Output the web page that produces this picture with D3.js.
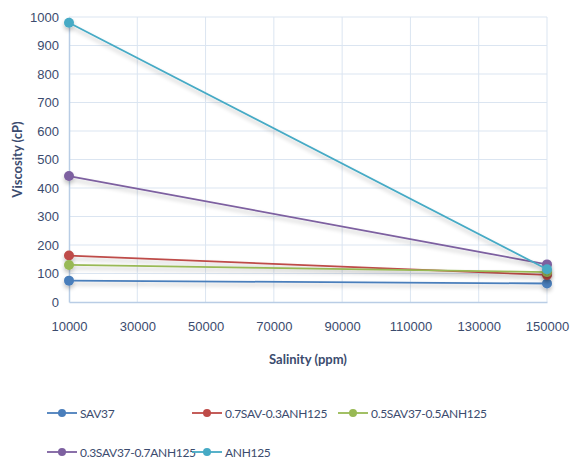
<!DOCTYPE html>
<html lang='en'>
<head>
<meta charset='UTF-8'>
<title>Viscosity vs salinity</title>
<script src='https://cdnjs.cloudflare.com/ajax/libs/d3/7.8.5/d3.min.js'></script>
<style>
  body { margin: 0; background: #fff; }
  svg { display: block; font-family: Lato, 'Open Sans', sans-serif; }
</style>
</head>
<body>
<div id='chart'></div>
<script>
  // data
  const salinity = [10000, 150000];
  const seriesNames = ['SAV37', '0.7SAV-0.3ANH125', '0.5SAV37-0.5ANH125', '0.3SAV37-0.7ANH125', 'ANH125'];
  const sav37 = [75, 65];
  const sav07 = [163, 95];
  const sav05 = [130, 105];
  const sav03 = [442, 132];
  const anh125 = [980, 115];
  const colors = ['#4a7ebb', '#be4b48', '#98b954', '#7d60a0', '#46aac5'];
  const xTicks = [10000, 30000, 50000, 70000, 90000, 110000, 130000, 150000];
  const yTicks = [0, 100, 200, 300, 400, 500, 600, 700, 800, 900, 1000];

  const allValues = [sav37, sav07, sav05, sav03, anh125];
  const series = seriesNames.map((name, i) => ({
    name, color: colors[i],
    points: salinity.map((s, j) => ({ s, v: allValues[i][j] }))
  }));

  const W = 573, H = 461;
  const margin = { top: 17, right: 26, bottom: 159, left: 69 };
  const width = W - margin.left - margin.right;
  const height = H - margin.top - margin.bottom;

  const svg = d3.select('#chart').append('svg').attr('width', W).attr('height', H);

  const defs = svg.append('defs');
  const shadow = defs.append('filter').attr('id', 'shadow')
    .attr('x', '-10%').attr('y', '-50%').attr('width', '120%').attr('height', '200%');
  shadow.append('feGaussianBlur').attr('in', 'SourceAlpha').attr('stdDeviation', 2);
  shadow.append('feOffset').attr('dx', 0).attr('dy', 3).attr('result', 'blur');
  shadow.append('feComponentTransfer').append('feFuncA').attr('type', 'linear').attr('slope', 0.25);
  const merge = shadow.append('feMerge');
  merge.append('feMergeNode');
  merge.append('feMergeNode').attr('in', 'SourceGraphic');

  const g = svg.append('g').attr('transform', `translate(${margin.left},${margin.top})`);

  const x = d3.scaleLinear().domain([10000, 150000]).range([0, width]);
  const y = d3.scaleLinear().domain([0, 1000]).range([height, 0]);

  // grid
  g.append('g').selectAll('line').data(yTicks.slice(1)).join('line')
    .attr('x1', 0).attr('x2', width)
    .attr('y1', d => y(d)).attr('y2', d => y(d))
    .attr('stroke', '#dbe5f1').attr('stroke-width', 1);
  g.append('g').selectAll('line').data(xTicks.slice(1)).join('line')
    .attr('x1', d => x(d)).attr('x2', d => x(d))
    .attr('y1', 0).attr('y2', height)
    .attr('stroke', '#dbe5f1').attr('stroke-width', 1);

  const yAxis = g.append('g')
    .call(d3.axisLeft(y).tickValues(yTicks).tickSize(0).tickPadding(10).tickFormat(d3.format('d')));
  const xAxis = g.append('g').attr('transform', `translate(0,${height})`)
    .call(d3.axisBottom(x).tickValues(xTicks).tickSize(0).tickPadding(20).tickFormat(d3.format('d')));
  [xAxis, yAxis].forEach(a => {
    a.select('.domain').attr('stroke', '#b9cde5').attr('stroke-width', 1.5);
    a.selectAll('text').attr('fill', '#3b4b6e').attr('font-size', 13);
  });

  const line = d3.line().x(d => x(d.s)).y(d => y(d.v));
  const sg = g.selectAll('.series').data(series).join('g').attr('class', 'series')
    .attr('filter', 'url(#shadow)');
  sg.append('path').attr('d', d => line(d.points))
    .attr('fill', 'none').attr('stroke', d => d.color).attr('stroke-width', 1.8);
  sg.selectAll('circle').data(d => d.points.map(p => ({ ...p, color: d.color }))).join('circle')
    .attr('cx', d => x(d.s)).attr('cy', d => y(d.v)).attr('r', 5)
    .attr('fill', d => d.color);

  // axis titles
  svg.append('text')
    .attr('transform', `translate(22,${margin.top + height / 2}) rotate(-90)`)
    .attr('text-anchor', 'middle').attr('font-weight', 'bold').attr('font-size', 13)
    .attr('fill', '#3b4b6e').text('Viscosity (cP)');
  svg.append('text')
    .attr('x', margin.left + width / 2).attr('y', 364)
    .attr('text-anchor', 'middle').attr('font-weight', 'bold').attr('font-size', 13)
    .attr('fill', '#3b4b6e').text('Salinity (ppm)');

  // legend
  const legendPos = [[47, 413], [192, 413], [338, 413], [47, 452], [192, 452]];
  const lg = svg.append('g').selectAll('g').data(series).join('g')
    .attr('transform', (d, i) => `translate(${legendPos[i][0]},${legendPos[i][1]})`);
  lg.append('line').attr('x1', 0).attr('x2', 30).attr('stroke', d => d.color).attr('stroke-width', 1.8);
  lg.append('circle').attr('cx', 15).attr('r', 4).attr('fill', d => d.color);
  lg.append('text').attr('x', 33).attr('y', 4.5).attr('font-size', 12)
    .attr('letter-spacing', -0.3)
    .attr('fill', '#3b4b6e').text(d => d.name);
</script>
</body>
</html>
